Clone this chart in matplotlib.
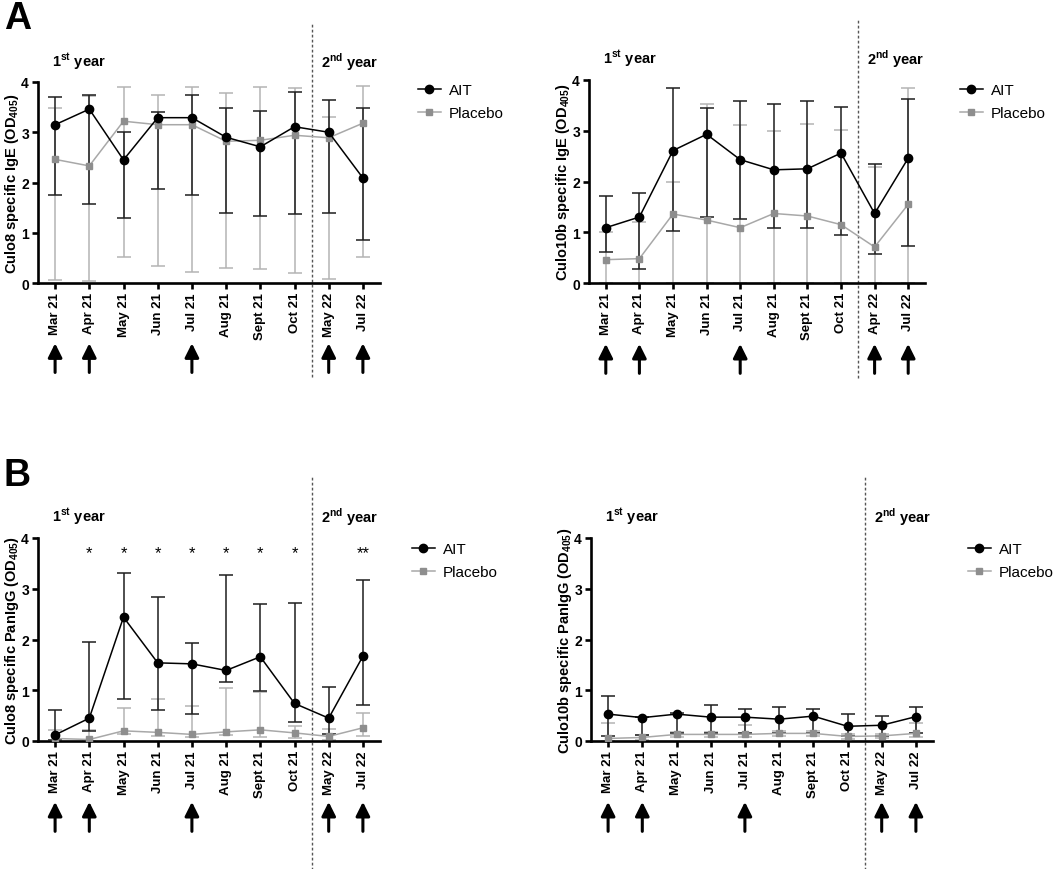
import matplotlib
matplotlib.use('Agg')
import matplotlib.pyplot as plt
import matplotlib.transforms as mtransforms
import numpy as np

plt.rcParams['font.family'] = ['Liberation Sans', 'DejaVu Sans']
plt.rcParams['mathtext.fontset'] = 'custom'
plt.rcParams['mathtext.rm'] = 'Liberation Sans'
plt.rcParams['mathtext.bf'] = 'Liberation Sans:bold'

# ---- data ----
months_8 = ['Mar 21', 'Apr 21', 'May 21', 'Jun 21', 'Jul 21', 'Aug 21', 'Sept 21', 'Oct 21', 'May 22', 'Jul 22']
months_10b = ['Mar 21', 'Apr 21', 'May 21', 'Jun 21', 'Jul 21', 'Aug 21', 'Sept 21', 'Oct 21', 'Apr 22', 'Jul 22']
arrow_idx = [0, 1, 4, 8, 9]

# A: Culo8 IgE
a1_ait = [3.15, 3.46, 2.45, 3.29, 3.29, 2.90, 2.71, 3.11, 3.00, 2.09]
a1_ait_hi = [3.70, 3.75, 3.00, 3.41, 3.75, 3.49, 3.42, 3.81, 3.65, 3.48]
a1_ait_lo = [1.76, 1.58, 1.30, 1.87, 1.76, 1.39, 1.33, 1.37, 1.39, 0.86]
a1_pla = [2.46, 2.33, 3.22, 3.15, 3.15, 2.82, 2.84, 2.94, 2.89, 3.18]
a1_pla_hi = [3.48, 3.72, 3.90, 3.75, 3.90, 3.78, 3.91, 3.88, 3.30, 3.92]
a1_pla_lo = [0.05, 0.03, 0.51, 0.33, 0.22, 0.30, 0.28, 0.20, 0.08, 0.52]

# A: Culo10b IgE
a2_ait = [1.09, 1.30, 2.61, 2.93, 2.43, 2.23, 2.25, 2.56, 1.37, 2.46]
a2_ait_hi = [1.72, 1.77, 3.84, 3.44, 3.59, 3.52, 3.59, 3.46, 2.34, 3.63]
a2_ait_lo = [0.61, 0.27, 1.03, 1.30, 1.26, 1.09, 1.09, 0.94, 0.58, 0.73]
a2_pla = [0.46, 0.48, 1.36, 1.24, 1.09, 1.37, 1.32, 1.15, 0.71, 1.55]
a2_pla_hi = [1.00, 1.20, 2.00, 3.52, 3.12, 3.00, 3.14, 3.02, 2.28, 3.84]
a2_pla_lo = [0.0, 0.0, 0.0, 0.0, 0.0, 0.0, 0.0, 0.0, 0.0, 0.0]

# B: Culo8 PanIgG
b1_ait = [0.12, 0.45, 2.44, 1.54, 1.52, 1.39, 1.66, 0.74, 0.45, 1.67]
b1_ait_hi = [0.61, 1.95, 3.32, 2.84, 1.93, 3.27, 2.69, 2.72, 1.06, 3.18]
b1_ait_lo = [0.02, 0.19, 0.82, 0.62, 0.54, 1.16, 0.98, 0.38, 0.14, 0.70]
b1_pla = [0.05, 0.03, 0.20, 0.17, 0.13, 0.18, 0.22, 0.16, 0.09, 0.26]
b1_pla_hi = [0.22, 0.21, 0.66, 0.83, 0.69, 1.04, 0.97, 0.30, 0.24, 0.56]
b1_pla_lo = [0.0, 0.0, 0.14, 0.10, 0.08, 0.11, 0.08, 0.06, 0.01, 0.10]
b1_stars = ['', '*', '*', '*', '*', '*', '*', '*', '', '**']

# B: Culo10b PanIgG
b2_ait = [0.53, 0.46, 0.53, 0.47, 0.47, 0.43, 0.49, 0.29, 0.31, 0.48]
b2_ait_hi = [0.88, 0.48, 0.55, 0.70, 0.64, 0.67, 0.63, 0.54, 0.50, 0.67]
b2_ait_lo = [0.10, 0.12, 0.15, 0.15, 0.15, 0.15, 0.15, 0.10, 0.10, 0.15]
b2_pla = [0.05, 0.07, 0.13, 0.13, 0.13, 0.15, 0.15, 0.09, 0.10, 0.15]
b2_pla_hi = [0.35, 0.12, 0.17, 0.18, 0.31, 0.19, 0.19, 0.13, 0.14, 0.35]
b2_pla_lo = [0.0, 0.02, 0.08, 0.08, 0.08, 0.10, 0.10, 0.04, 0.05, 0.08]

W, H = 1056, 870
fig = plt.figure(figsize=(W / 100, H / 100), dpi=100)


def px_axes(left, right, top, bottom):
    return fig.add_axes([left / W, 1 - bottom / H, (right - left) / W, (bottom - top) / H])


def draw_panel(ax, months, ait, ait_lo, ait_hi, pla, pla_lo, pla_hi, ylabel,
               leg_xy, dash_top, dash_bot, stars=None):
    x = np.arange(len(months))
    ait = np.array(ait); pla = np.array(pla)
    ait_err = [ait - np.array(ait_lo), np.array(ait_hi) - ait]
    pla_err = [pla - np.array(pla_lo), np.array(pla_hi) - pla]

    ax.errorbar(x, pla, yerr=pla_err, fmt='none', ecolor='#b4b4b4', elinewidth=1.1,
                capsize=5, capthick=1.1, zorder=2)
    ax.errorbar(x, ait, yerr=ait_err, fmt='none', ecolor='#1e1e1e', elinewidth=1.1,
                capsize=5, capthick=1.1, zorder=3)
    l2, = ax.plot(x, pla, color='#a8a8a8', lw=1.1, marker='s', ms=5,
                  mfc='#8e8e8e', mec='#8e8e8e', zorder=4, label='Placebo')
    l1, = ax.plot(x, ait, color='black', lw=1.1, marker='o', ms=6,
                  mfc='black', mec='black', zorder=5, label='AIT')

    ax.set_xlim(-0.5, len(months) - 0.5)
    ax.set_ylim(0, 4)
    ax.set_yticks([0, 1, 2, 3, 4])
    ax.set_xticks(x)
    ax.set_xticklabels(months, rotation=90, fontweight='bold', fontsize=9.5)
    for t in ax.get_yticklabels():
        t.set_fontweight('bold')
        t.set_fontsize(10)
    ax.set_ylabel(ylabel, fontweight='bold', fontsize=10.5, labelpad=0.5)
    for s in ['top', 'right']:
        ax.spines[s].set_visible(False)
    for s in ['left', 'bottom']:
        ax.spines[s].set_linewidth(1.9)
    ax.tick_params(width=1.9, length=4.5, pad=2, colors='black')

    trans = mtransforms.blended_transform_factory(ax.transData, ax.transAxes)
    ax.axvline(7.5, ymin=dash_bot, ymax=dash_top, color='#555555', lw=1.0,
               ls=(0, (2, 1.6)), clip_on=False)

    for i in arrow_idx:
        ax.annotate('', xy=(i, -0.30), xytext=(i, -0.445), xycoords=trans,
                    textcoords=trans,
                    arrowprops=dict(arrowstyle='-|>,head_length=0.6,head_width=0.3',
                                    lw=2.2, color='black', mutation_scale=14,
                                    shrinkA=0, shrinkB=0))

    ax.text(-0.08, 1.105, r'1$^{\mathbf{st}}$ year', transform=trans, fontsize=10.5,
            fontweight='bold', ha='left', va='center')
    ax.text(7.78, 1.105, r'2$^{\mathbf{nd}}$ year', transform=trans, fontsize=10.5,
            fontweight='bold', ha='left', va='center')

    if stars is not None:
        for i, s in enumerate(stars):
            if s:
                ax.text(i, 3.72, s, ha='center', va='center', fontsize=12)

    ax.legend(handles=[l1, l2], loc='upper left', bbox_to_anchor=(leg_xy[0] / W, 1 - leg_xy[1] / H),
              bbox_transform=fig.transFigure, frameon=False, fontsize=11,
              handlelength=1.5, handletextpad=0.5, borderpad=0, borderaxespad=0,
              labelspacing=0.6)


ax1 = px_axes(38, 380, 83, 284)
draw_panel(ax1, months_8, a1_ait, a1_ait_lo, a1_ait_hi, a1_pla, a1_pla_lo, a1_pla_hi,
           r'Culo8 specific IgE (OD$_{\mathbf{405}}$)', (418, 84), 1.30, -0.47)

ax2 = px_axes(589, 925, 81, 284)
draw_panel(ax2, months_10b, a2_ait, a2_ait_lo, a2_ait_hi, a2_pla, a2_pla_lo, a2_pla_hi,
           r'Culo10b specific IgE (OD$_{\mathbf{405}}$)', (960, 84), 1.30, -0.47)

ax3 = px_axes(38, 380, 539, 742)
draw_panel(ax3, months_8, b1_ait, b1_ait_lo, b1_ait_hi, b1_pla, b1_pla_lo, b1_pla_hi,
           r'Culo8 specific PanIgG (OD$_{\mathbf{405}}$)', (412, 543), 1.31, -0.64, stars=b1_stars)

ax4 = px_axes(591, 933, 539, 742)
draw_panel(ax4, months_8, b2_ait, b2_ait_lo, b2_ait_hi, b2_pla, b2_pla_lo, b2_pla_hi,
           r'Culo10b specific PanIgG (OD$_{\mathbf{405}}$)', (968, 543), 1.31, -0.64)

fig.text(4 / W, 1 - 19 / H, 'A', fontsize=27, fontweight='bold', ha='left', va='center')
fig.text(4 / W, 1 - 476 / H, 'B', fontsize=27, fontweight='bold', ha='left', va='center')

fig.savefig('out.png', dpi=100)
